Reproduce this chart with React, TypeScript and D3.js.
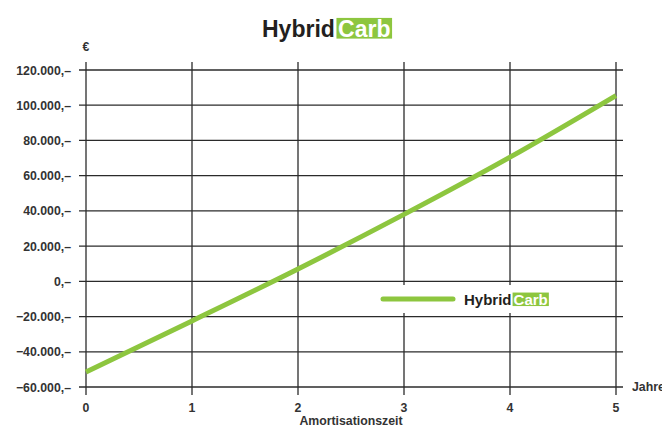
import React, { useEffect, useRef } from 'react';
import * as d3 from 'd3';

const years = [0, 1, 2, 3, 4, 5];
const savings = [-51500, -22500, 7000, 38000, 70500, 105500];
const yTicks = [-60000, -40000, -20000, 0, 20000, 40000, 60000, 80000, 100000, 120000];

const GREEN = '#8dc63f';
const GRID = '#2b2b2b';
const FONT = '"Liberation Sans", Arial, Helvetica, sans-serif';
const LABEL = 12.3;

const fmt = (v: number) => (v === 0 ? '0,–' : d3.format(',')(v).replace(/,/g, '.') + ',–');

const App = () => {
    const svgRef = useRef<SVGSVGElement>(null);

    useEffect(() => {
        const svg = d3.select(svgRef.current);
        svg.selectAll('*').remove();

        const x = d3.scaleLinear().domain([0, 5]).range([86, 616]);
        const y = d3.scaleLinear().domain([-60000, 120000]).range([387, 70]);

        // horizontal grid + y ticks
        svg.append('g')
            .selectAll('line')
            .data(yTicks)
            .enter().append('line')
            .attr('x1', 79)
            .attr('x2', 623)
            .attr('y1', d => y(d))
            .attr('y2', d => y(d))
            .attr('stroke', GRID)
            .attr('stroke-width', 1.3);

        // vertical grid
        svg.append('g')
            .selectAll('line')
            .data(years)
            .enter().append('line')
            .attr('x1', d => x(d))
            .attr('x2', d => x(d))
            .attr('y1', 62)
            .attr('y2', 395)
            .attr('stroke', GRID)
            .attr('stroke-width', 1.3);

        svg.append('g')
            .selectAll('text')
            .data(yTicks)
            .enter().append('text')
            .attr('x', 71)
            .attr('y', d => y(d) + 4.5)
            .attr('text-anchor', 'end')
            .attr('font-family', FONT)
            .attr('font-weight', 'bold')
            .attr('font-size', LABEL)
            .attr('fill', '#333')
            .text(d => fmt(d));

        svg.append('g')
            .selectAll('text')
            .data(years)
            .enter().append('text')
            .attr('x', d => x(d))
            .attr('y', 412)
            .attr('text-anchor', 'middle')
            .attr('font-family', FONT)
            .attr('font-weight', 'bold')
            .attr('font-size', LABEL)
            .attr('fill', '#333')
            .text(d => d);

        svg.append('text')
            .attr('x', 86).attr('y', 51)
            .attr('text-anchor', 'middle')
            .attr('font-family', FONT).attr('font-weight', 'bold').attr('font-size', LABEL)
            .attr('fill', '#333')
            .text('€');

        // cut off at the right edge, as in the original
        svg.append('text')
            .attr('x', 632).attr('y', 391)
            .attr('font-family', FONT).attr('font-weight', 'bold').attr('font-size', LABEL)
            .attr('fill', '#333')
            .text('Jahre');

        svg.append('text')
            .attr('x', x(2.5)).attr('y', 425)
            .attr('text-anchor', 'middle')
            .attr('font-family', FONT).attr('font-weight', 'bold').attr('font-size', LABEL)
            .attr('fill', '#333')
            .text('Amortisationszeit');

        // legend background
        svg.append('rect')
            .attr('x', 372).attr('y', 285)
            .attr('width', 190).attr('height', 28)
            .attr('fill', '#fff');

        // data line
        const line = d3.line<number>()
            .x((_, i) => x(years[i]))
            .y(d => y(d))
            .curve(d3.curveMonotoneX);

        svg.append('path')
            .datum(savings)
            .attr('d', line)
            .attr('fill', 'none')
            .attr('stroke', GREEN)
            .attr('stroke-width', 5);

        // legend
        svg.append('line')
            .attr('x1', 383).attr('x2', 453)
            .attr('y1', 299).attr('y2', 299)
            .attr('stroke', GREEN)
            .attr('stroke-width', 5)
            .attr('stroke-linecap', 'round');

        const brand = (g: d3.Selection<SVGGElement, unknown, null, undefined>, size: number, tx: number, ty: number) => {
            const t = g.append('text')
                .attr('x', tx).attr('y', ty)
                .attr('font-family', FONT).attr('font-weight', 'bold').attr('font-size', size)
                .attr('fill', '#231f20')
                .text('Hybrid');
            const w = (t.node() as SVGTextElement).getComputedTextLength();
            const c = g.append('text')
                .attr('x', tx + w + size * 0.14).attr('y', ty)
                .attr('font-family', FONT).attr('font-weight', 'bold').attr('font-size', size)
                .attr('fill', '#fff')
                .text('Carb');
            const cw = (c.node() as SVGTextElement).getComputedTextLength();
            g.insert('rect', 'text:last-child')
                .attr('x', tx + w + size * 0.07)
                .attr('y', ty - size * 0.83)
                .attr('width', cw + size * 0.14)
                .attr('height', size * 0.9)
                .attr('fill', GREEN);
        };

        brand(svg.append('g'), 23, 262, 37);
        brand(svg.append('g'), 15, 464, 305);
    }, []);

    return (
        <svg ref={svgRef} width={662} height={428}
            style={{ position: 'absolute', left: 0, top: 0, background: '#fff' }} />
    );
};

export default App;
